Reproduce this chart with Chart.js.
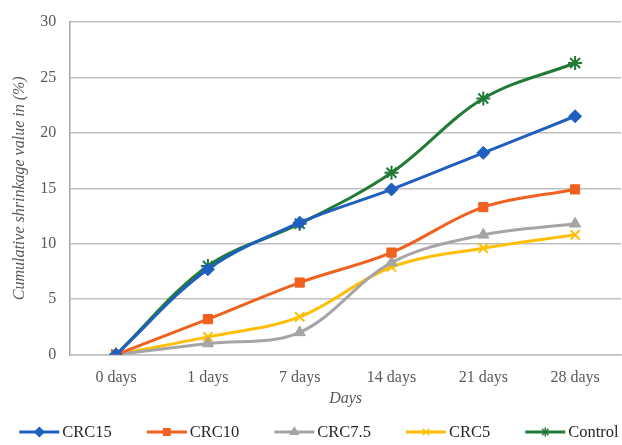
<!DOCTYPE html>
<html>
<head>
<meta charset="utf-8">
<script src="https://cdn.jsdelivr.net/npm/chart.js@4"></script>
<style>
  html, body { margin: 0; padding: 0; background: #fff; }
  #wrap { width: 622px; height: 445px; }
</style>
</head>
<body>
<div id="wrap"><canvas id="shrinkChart"></canvas></div>
<script>
// Cumulative shrinkage data
const days = ["0 days", "1 days", "7 days", "14 days", "21 days", "28 days"];
const crc15 = [0, 7.7, 11.9, 14.9, 18.2, 21.5];
const crc10 = [0, 3.2, 6.5, 9.2, 13.3, 14.9];
const crc75 = [0, 1.0, 2.0, 8.3, 10.8, 11.8];
const crc5 = [0, 1.6, 3.4, 7.9, 9.6, 10.8];
const control = [0, 8.0, 11.8, 16.4, 23.1, 26.3];

const yTicks = [0, 5, 10, 15, 20, 25, 30];

const serif = "'Liberation Serif', 'Times New Roman', serif";
const textGrey = "#595959";

// series look: name, values, colour, marker
const series = [
  { name: "CRC15", values: crc15, color: "#1F5FBF", style: "rectRot", radius: 6.5 },
  { name: "CRC10", values: crc10, color: "#F0601E", style: "rect", radius: 6.5 },
  { name: "CRC7.5", values: crc75, color: "#A5A5A5", style: "triangle", radius: 6.5 },
  { name: "CRC5", values: crc5, color: "#FFBE00", style: "crossRot", radius: 6.5 },
  { name: "Control", values: control, color: "#217A36", style: "star", radius: 7 },
];

const datasets = series.map((s) => ({
  label: s.name,
  data: s.values,
  borderColor: s.color,
  backgroundColor: s.color,
  borderWidth: 3,
  pointStyle: s.style,
  pointRadius: s.radius,
  pointBorderWidth: s.style === "crossRot" || s.style === "star" ? 2 : 1,
  tension: 0.35,
  fill: false,
}));

// legend drawn by hand: line with marker, then the name (like Excel)
const lineLegend = {
  id: "lineLegend",
  afterDraw(chart) {
    const ctx = chart.ctx;
    const lineLen = 40;
    const textGap = 3;
    const itemGap = 35;
    const y = 432;
    ctx.save();
    ctx.font = "16.5px " + serif;
    const widths = series.map((s) => lineLen + textGap + ctx.measureText(s.name).width);
    const total = widths.reduce((a, b) => a + b, 0) + itemGap * (series.length - 1);
    let x = (chart.width - total) / 2 + 8;
    series.forEach((s, i) => {
      ctx.strokeStyle = s.color;
      ctx.fillStyle = s.color;
      ctx.lineWidth = 3;
      ctx.beginPath();
      ctx.moveTo(x, y);
      ctx.lineTo(x + lineLen, y);
      ctx.stroke();
      ctx.lineWidth = 1.5;
      Chart.helpers.drawPoint(ctx, { pointStyle: s.style, rotation: 0, radius: 4.5, borderWidth: 1.5 }, x + lineLen / 2, y);
      ctx.fillStyle = "#262626";
      ctx.textBaseline = "middle";
      ctx.textAlign = "left";
      ctx.fillText(s.name, x + lineLen + textGap, y + 1);
      x += widths[i] + itemGap;
    });
    ctx.restore();
  },
};

new Chart(document.getElementById("shrinkChart"), {
  type: "line",
  data: { labels: days, datasets: datasets },
  options: {
    responsive: true,
    maintainAspectRatio: false,
    animation: false,
    layout: { autoPadding: false, padding: { left: 10, right: 1, top: 4, bottom: 37 } },
    scales: {
      x: {
        offset: true,
        grid: { display: false },
        border: { color: "#BFBFBF", width: 1.5 },
        ticks: { color: textGrey, font: { family: serif, size: 16 }, padding: 6 },
        title: {
          display: true,
          text: "Days",
          color: textGrey,
          font: { family: serif, size: 16, style: "italic" },
          padding: { top: -5, bottom: 0 },
        },
      },
      y: {
        min: 0,
        max: 30,
        afterBuildTicks: (axis) => {
          axis.ticks = yTicks.map((v) => ({ value: v }));
        },
        grid: { color: "#BFBFBF", lineWidth: 1.5, drawTicks: false },
        border: { color: "#A6A6A6", width: 1.5 },
        ticks: { color: textGrey, font: { family: serif, size: 16, lineHeight: 1 }, padding: 14 },
        title: {
          display: true,
          text: "Cumulative shrinkage value in (%)",
          color: textGrey,
          font: { family: serif, size: 16, style: "italic" },
          padding: { top: 0, bottom: -3 },
        },
      },
    },
    plugins: {
      legend: { display: false },
      tooltip: { enabled: false },
    },
  },
  plugins: [lineLegend],
});
</script>
</body>
</html>
